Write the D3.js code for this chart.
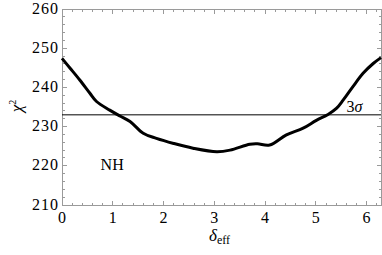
<!DOCTYPE html>
<meta charset="utf-8">
<style>
    body { margin: 0; background: #fff; }
    #chart { position: relative; width: 382px; height: 255px; }
    #chart svg { position: absolute; left: 0; top: 0; }
    .lbl {
        position: absolute;
        font-family: "Liberation Serif", "Times New Roman", serif;
        font-size: 16px;
        line-height: 16px;
        white-space: nowrap;
        color: #000;
    }
</style>
<body>
<div id="chart"></div>
<script src="https://cdn.jsdelivr.net/npm/d3@7"></script>
<script>

// chi^2 curve
var deltaVals = [0, 0.16, 0.35, 0.55, 0.68, 0.94, 1.14, 1.34, 1.6, 1.86, 2.2, 2.58, 3.05, 3.31, 3.7, 3.85, 4.09, 4.42, 4.75, 5.01, 5.24, 5.41, 5.54, 5.73, 5.93, 6.13, 6.283];
var chiVals   = [247.4, 244.9, 241.9, 238.5, 236.4, 234.2, 232.7, 231.3, 228.3, 227.0, 225.7, 224.5, 223.6, 224.0, 225.5, 225.6, 225.3, 227.9, 229.6, 231.6, 233.1, 234.7, 236.8, 240.2, 243.6, 246.1, 247.6];
var xTicks = [0, 1, 2, 3, 4, 5, 6];
var yTicks = [210, 220, 230, 240, 250, 260];
var sigma3 = 233;

var margin = {top: 9, right: 1, bottom: 50, left: 62},
    width = 382 - margin.left - margin.right,
    height = 255 - margin.top - margin.bottom;

var x = d3.scaleLinear().domain([0, 2 * Math.PI]).range([0, width]);
var y = d3.scaleLinear().domain([210, 260]).range([height, 0]);

var chart = d3.select("#chart");

var svg = chart.append("svg")
    .attr("width", 382)
    .attr("height", 255)
  .append("g")
    .attr("transform", "translate(" + margin.left + "," + margin.top + ")");

var frameColor = "#9a9a9a";

// minor ticks
var xMinor = d3.range(0, 6.3, 0.2);
var yMinor = d3.range(210, 260.01, 2);

function tickSet(vals, len, cls) {
  // bottom / top
  svg.selectAll("." + cls + "x").data(vals).enter().append("line")
      .attr("x1", function (d) { return x(d); }).attr("x2", function (d) { return x(d); })
      .attr("y1", height).attr("y2", height - len)
      .attr("stroke", frameColor).attr("shape-rendering", "crispEdges");
  svg.selectAll("." + cls + "xt").data(vals).enter().append("line")
      .attr("x1", function (d) { return x(d); }).attr("x2", function (d) { return x(d); })
      .attr("y1", 0).attr("y2", len)
      .attr("stroke", frameColor).attr("shape-rendering", "crispEdges");
}
function tickSetY(vals, len, cls) {
  svg.selectAll("." + cls + "y").data(vals).enter().append("line")
      .attr("x1", 0).attr("x2", len)
      .attr("y1", function (d) { return y(d); }).attr("y2", function (d) { return y(d); })
      .attr("stroke", frameColor).attr("shape-rendering", "crispEdges");
  svg.selectAll("." + cls + "yr").data(vals).enter().append("line")
      .attr("x1", width).attr("x2", width - len)
      .attr("y1", function (d) { return y(d); }).attr("y2", function (d) { return y(d); })
      .attr("stroke", frameColor).attr("shape-rendering", "crispEdges");
}
tickSet(xMinor, 2.5, "mn");
tickSet(xTicks, 4.5, "mj");
tickSetY(yMinor, 2.5, "mn");
tickSetY(yTicks, 4.5, "mj");

// frame
svg.append("rect")
    .attr("x", 0).attr("y", 0)
    .attr("width", width).attr("height", height)
    .attr("fill", "none")
    .attr("stroke", frameColor)
    .attr("shape-rendering", "crispEdges");

// 3 sigma line
svg.append("line")
    .attr("x1", 0).attr("x2", width)
    .attr("y1", y(sigma3)).attr("y2", y(sigma3))
    .attr("stroke", "#000").attr("stroke-width", 1);

// curve
var pts = deltaVals.map(function (d, i) { return [d, chiVals[i]]; });
var line = d3.line()
    .x(function (d) { return x(d[0]); })
    .y(function (d) { return y(d[1]); })
    .curve(d3.curveCatmullRom.alpha(0.5));

svg.append("path")
    .datum(pts)
    .attr("fill", "none")
    .attr("stroke", "#000")
    .attr("stroke-width", 3)
    .attr("d", line);

// text as html labels on top (serif font); baseline sits 13.4px below top of the box
var base = 13.4;

chart.selectAll(".xl").data(xTicks).enter().append("div")
    .attr("class", "lbl")
    .style("left", function (d) { return (margin.left + x(d)) + "px"; })
    .style("top", (223.5 - base) + "px")
    .style("transform", "translateX(-50%)")
    .text(function (d) { return d; });

chart.selectAll(".yl").data(yTicks).enter().append("div")
    .attr("class", "lbl")
    .style("right", (382 - margin.left + 3) + "px")
    .style("top", function (d) { return (margin.top + y(d) + 5 - base) + "px"; })
    .style("letter-spacing", "1px")
    .text(function (d) { return d; });

chart.append("div")
    .attr("class", "lbl")
    .style("left", "346.5px")
    .style("top", (margin.top + y(sigma3) - 2.5 - base) + "px")
    .html("3<i>σ</i>");

chart.append("div")
    .attr("class", "lbl")
    .style("left", (margin.left + x(0.76)) + "px")
    .style("top", (margin.top + y(218.8) - base) + "px")
    .text("NH");

chart.append("div")
    .attr("class", "lbl")
    .style("font-size", "17px")
    .style("left", "15px")
    .style("top", (margin.top + y(235.3)) + "px")
    .style("transform", "translate(-50%,-50%) rotate(-90deg)")
    .html("<i>χ</i><sup style='font-size:10px;vertical-align:6px'>2</sup>");

chart.append("div")
    .attr("class", "lbl")
    .style("font-size", "17px")
    .style("left", "209px")
    .style("top", (241 - base) + "px")
    .html("<i>δ</i><span style='font-size:12px;position:relative;top:3px'>eff</span>");

</script>
</body>
